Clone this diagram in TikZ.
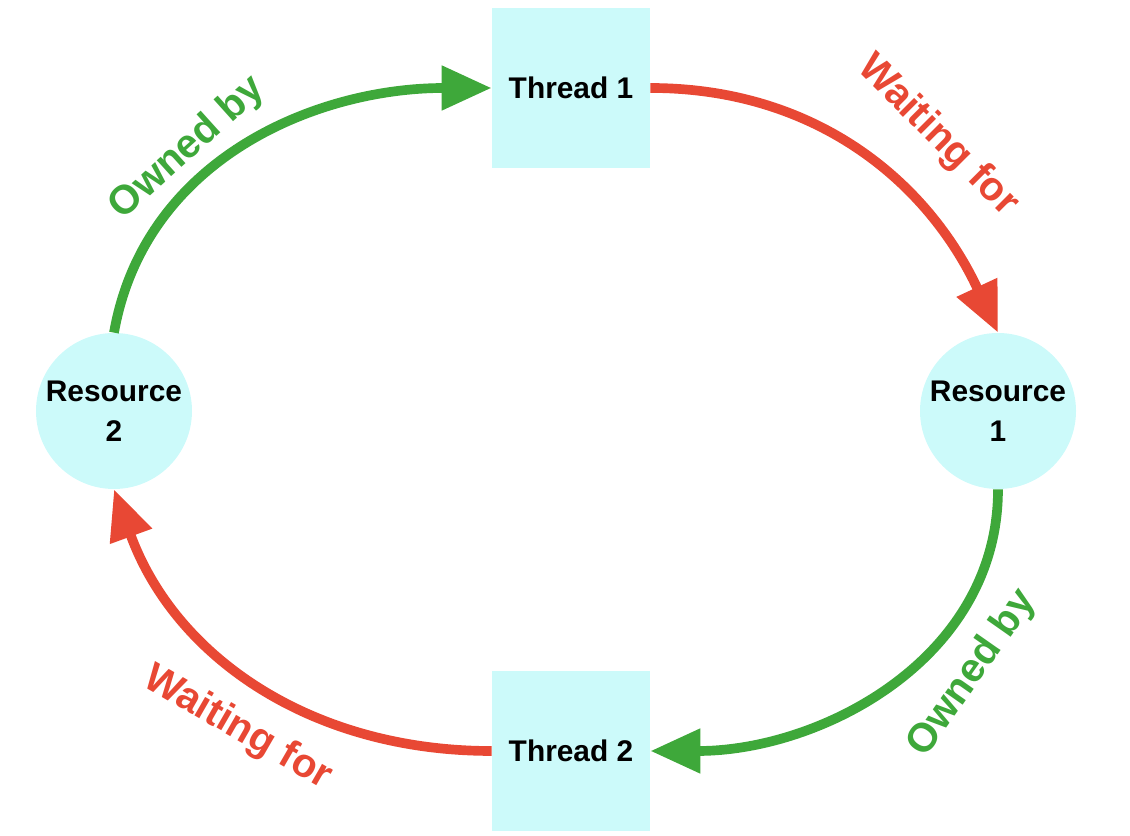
\documentclass[tikz,border=0pt]{standalone}
\usepackage{fontspec}
\setmainfont{Liberation Sans}
\usetikzlibrary{arrows.meta}
\definecolor{ownedgreen}{RGB}{62,168,58}
\definecolor{waitred}{RGB}{232,72,52}
\definecolor{boxcyan}{RGB}{204,250,250}
\tikzset{
    thread/.style={rectangle, fill=boxcyan, minimum width=3.16cm, minimum height=3.2cm, font=\fontsize{17}{20}\selectfont\bfseries},
    resource/.style={circle, fill=boxcyan, minimum size=3.12cm, inner sep=0pt, align=center, font=\fontsize{17}{23}\selectfont\bfseries},
    link/.style={line width=5.5pt, -{Triangle[length=1cm, width=0.85cm]}},
    tag/.style={font=\fontsize{23}{26}\selectfont\bfseries}
}
\begin{document}
\begin{tikzpicture}
    \useasboundingbox (0,0) rectangle (22.6,16.72);
    % Threads and resources
    \node[thread] (t1) at (11.42,14.96) {Thread 1};
    \node[thread] (t2) at (11.42,1.70) {Thread 2};
    \node[resource] (r1) at (19.96,8.5) {Resource\\1};
    \node[resource] (r2) at (2.28,8.5) {Resource\\2};

    % Ownership and waiting
    \draw[link, ownedgreen] (r2.north) to[out=80, in=180] (t1.west);
    \draw[link, waitred] (t1.east) to[out=0, in=115] (r1.north);
    \draw[link, ownedgreen] (r1.south) to[out=-90, in=0] (t2.east);
    \draw[link, waitred] (t2.west) to[out=180, in=-70] (r2.south);

    % Labels
    \node[tag, ownedgreen, rotate=42] (l1) at (3.75,13.75) {Owned by};
    \node[tag, waitred, rotate=-45] (l2) at (18.75,14.0) {Waiting for};
    \node[tag, ownedgreen, rotate=55] (l3) at (19.45,3.25) {Owned by};
    \node[tag, waitred, rotate=-30] (l4) at (4.75,2.15) {Waiting for};
\end{tikzpicture}
\end{document}
